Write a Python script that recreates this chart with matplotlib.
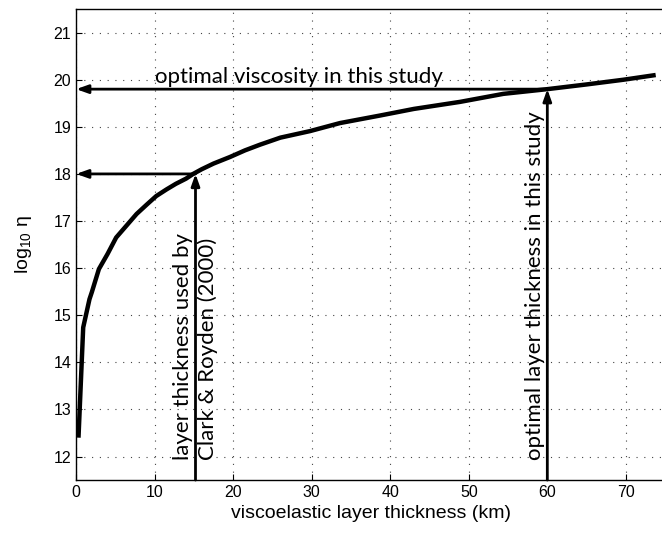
import matplotlib
matplotlib.use("Agg")
import matplotlib.pyplot as plt

plt.rcParams["mathtext.fontset"] = "custom"
plt.rcParams["mathtext.rm"] = "Liberation Sans"
plt.rcParams["mathtext.it"] = "Liberation Sans:italic"

# curve data: viscoelastic layer thickness (km) vs log10 viscosity
thickness = [0.3, 0.9, 1.7, 2.0, 2.9, 4.0, 5.1, 6.4, 7.7, 9.0, 10.2, 11.5, 12.7, 14.0, 14.9,
             16.0, 17.5, 19.6, 21.5, 23.4, 26.0, 29.8, 33.6, 38.7, 43.0, 48.9, 54.4, 60.0,
             65.0, 69.7, 73.8]
log_eta = [12.4, 14.74, 15.34, 15.49, 15.98, 16.3, 16.65, 16.9, 17.15, 17.35, 17.53, 17.67,
           17.79, 17.9, 18.0, 18.1, 18.22, 18.36, 18.5, 18.62, 18.77, 18.91, 19.08, 19.24,
           19.38, 19.53, 19.70, 19.8, 19.9, 20.0, 20.1]

xticks = list(range(0, 80, 10))
yticks = list(range(12, 22))

# marked points
clark_x, clark_y = 15.2, 18.0
opt_x, opt_y = 60.0, 19.8

fig = plt.figure(figsize=(6.62, 5.34), dpi=100)
ax = fig.add_axes([0.115, 0.101, 0.8897, 0.882])

ax.plot(thickness, log_eta, color="black", lw=3.2, solid_capstyle="butt", zorder=3)

ax.set_xlim(0, 75)
ax.set_ylim(11.5, 21.5)
ax.set_xticks(xticks)
ax.set_yticks(yticks)
ax.grid(True, linestyle=(0, (1, 6)), color="#444444", lw=0.8)
ax.tick_params(direction="in", length=4, labelsize=11.5, width=0.8)
for lab in ax.get_xticklabels() + ax.get_yticklabels():
    lab.set_fontfamily("Liberation Sans")
for s in ax.spines.values():
    s.set_linewidth(1.0)

ax.set_xlabel("viscoelastic layer thickness (km)", fontsize=14, family="Liberation Sans", labelpad=4)
ax.set_ylabel(r"log$_{10}$ η", fontsize=14, family="Liberation Sans", labelpad=14)

aprops = dict(arrowstyle="-|>,head_length=0.7,head_width=0.25", color="black", lw=2.0,
              shrinkA=0, shrinkB=0)
# horizontal arrows
ax.annotate("", xy=(0, opt_y), xytext=(opt_x, opt_y), arrowprops=aprops)
ax.annotate("", xy=(0, clark_y), xytext=(clark_x, clark_y), arrowprops=aprops)
# vertical arrows
ax.annotate("", xy=(opt_x, opt_y), xytext=(opt_x, 11.5), arrowprops=aprops)
ax.annotate("", xy=(clark_x, clark_y), xytext=(clark_x, 11.5), arrowprops=aprops)

tfont = dict(family="Lato", fontsize=16)
ax.text(10.1, 19.84, "optimal viscosity in this study", ha="left", va="bottom", **tfont)
ax.text(opt_x - 0.3, 11.92, "optimal layer thickness in this study", rotation=90,
        ha="right", va="bottom", **tfont)
ax.text(clark_x, 11.92, "layer thickness used by\nClark & Royden (2000)", rotation=90,
        ha="center", va="bottom", multialignment="left", linespacing=1.3, **tfont)

fig.savefig("out.png", dpi=100)
